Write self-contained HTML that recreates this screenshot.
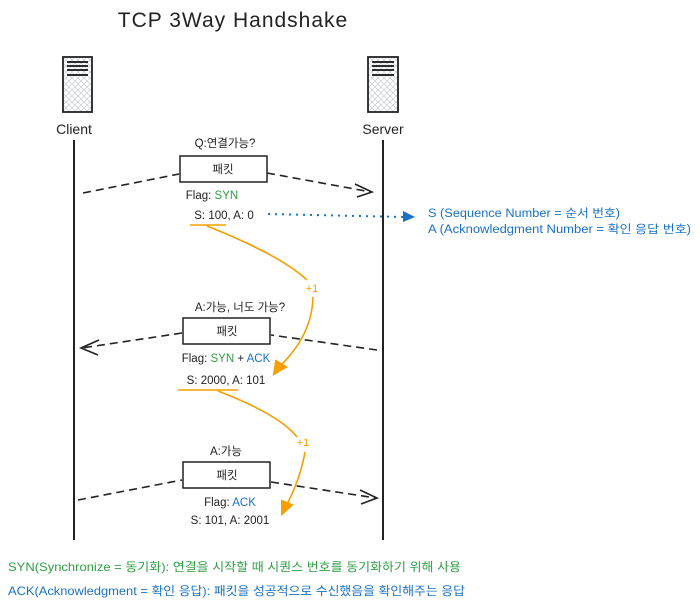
<!DOCTYPE html>
<html><head><meta charset="utf-8"><style>
html,body{margin:0;padding:0;background:#fff;width:700px;height:608px;overflow:hidden}
svg text{font-family:"Liberation Sans","Noto Sans CJK KR",sans-serif}
</style></head><body>
<svg width="700" height="608" viewBox="0 0 700 608" xmlns="http://www.w3.org/2000/svg">
<defs>
<pattern id="hx" width="6" height="6" patternUnits="userSpaceOnUse">
<path d="M0 0L6 6M6 0L0 6" stroke="#c8ccd4" stroke-width="0.7"/>
</pattern>
</defs>
<text x="233" y="27" font-size="21" text-anchor="middle" fill="#222" letter-spacing="1">TCP 3Way Handshake</text>
<rect x="63" y="57" width="29" height="55" fill="url(#hx)" stroke="#222" stroke-width="1.8"/>
<path d="M67 62H88M67 66H88M67 70H88M67 75H88" stroke="#111" stroke-width="1.8"/>
<rect x="368" y="57" width="30" height="55" fill="url(#hx)" stroke="#222" stroke-width="1.8"/>
<path d="M372 62H394M372 66H394M372 70H394M372 75H394" stroke="#111" stroke-width="1.8"/>
<text x="74" y="134" font-size="14" text-anchor="middle" fill="#222">Client</text>
<text x="383" y="134" font-size="14" text-anchor="middle" fill="#222">Server</text>
<line x1="74" y1="140" x2="74" y2="540" stroke="#222" stroke-width="2"/>
<line x1="383" y1="140" x2="383" y2="540" stroke="#222" stroke-width="2"/>

<g stroke="#222" stroke-width="1.6" fill="none" stroke-dasharray="8 5">
<path d="M83 193L179 174"/><path d="M267 173L371 192"/>
<path d="M377 350L271 335"/><path d="M182 333L82 348"/>
<path d="M78 500L182 480"/><path d="M271 482L376 498"/>
</g>
<g stroke="#222" stroke-width="1.6" fill="none">
<path d="M355 184L372 192L357 197"/>
<path d="M99 340L81 348L98 355"/>
<path d="M360 490L377 498L361 504"/>
</g>

<g font-size="11.5" fill="#222" text-anchor="middle">
<rect x="180" y="156" width="87" height="26" fill="#fff" stroke="#222" stroke-width="1.5"/>
<text x="225" y="147">Q:연결가능?</text>
<text x="223" y="173">패킷</text>
<text x="212" y="199">Flag: <tspan fill="#2f9e44">SYN</tspan></text>
<text x="224" y="219">S: 100, A: 0</text>

<rect x="183" y="318" width="87" height="26" fill="#fff" stroke="#222" stroke-width="1.5"/>
<text x="240" y="311">A:가능, 너도 가능?</text>
<text x="227" y="335">패킷</text>
<text x="226" y="362">Flag: <tspan fill="#2f9e44">SYN</tspan> + <tspan fill="#1971c2">ACK</tspan></text>
<text x="226" y="384">S: 2000, A: 101</text>

<rect x="183" y="462" width="87" height="26" fill="#fff" stroke="#222" stroke-width="1.5"/>
<text x="226" y="455">A:가능</text>
<text x="227" y="479">패킷</text>
<text x="230" y="506">Flag: <tspan fill="#1971c2">ACK</tspan></text>
<text x="230" y="524">S: 101, A: 2001</text>
</g>

<g stroke="#f59f00" stroke-width="1.6" fill="none">
<path d="M190 225H226"/><path d="M178 390H238"/>
<path d="M207 226Q280 255 307 280"/>
<path d="M313 297Q312 335 280 366"/>
<path d="M218 391Q280 415 297 437"/>
<path d="M305 452Q300 480 286 506"/>
</g>
<path d="M274 374L276 361L286 367Z" fill="#f59f00" stroke="#f59f00" stroke-width="2"/>
<path d="M282 514L282 501L292 505Z" fill="#f59f00" stroke="#f59f00" stroke-width="2"/>
<text x="312" y="292" font-size="11" fill="#f59f00" text-anchor="middle">+1</text>
<text x="303" y="446" font-size="11" fill="#f59f00" text-anchor="middle">+1</text>

<path d="M268 214L404 217" stroke="#1971c2" stroke-width="2" stroke-dasharray="2 5" fill="none"/>
<path d="M403 211L415 217L403 222Z" fill="#1971c2"/>
<text x="428" y="217" font-size="11.5" fill="#1971c2" textLength="192" lengthAdjust="spacingAndGlyphs">S (Sequence Number = 순서 번호)</text>
<text x="428" y="233" font-size="11.5" fill="#1971c2" textLength="263" lengthAdjust="spacingAndGlyphs">A (Acknowledgment Number = 확인 응답 번호)</text>

<text x="8" y="571" font-size="12" fill="#2f9e44" textLength="453" lengthAdjust="spacingAndGlyphs">SYN(Synchronize = 동기화): 연결을 시작할 때 시퀀스 번호를 동기화하기 위해 사용</text>
<text x="8" y="595" font-size="12" fill="#1971c2" textLength="457" lengthAdjust="spacingAndGlyphs">ACK(Acknowledgment = 확인 응답): 패킷을 성공적으로 수신했음을 확인해주는 응답</text>
</svg>
</body></html>
